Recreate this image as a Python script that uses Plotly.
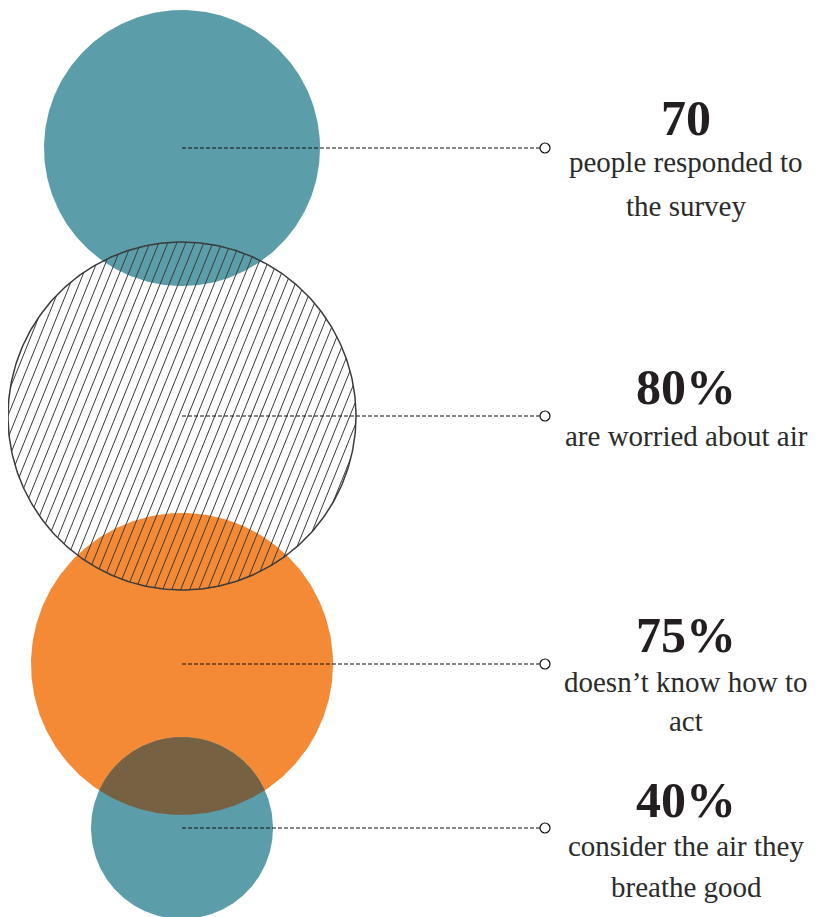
import numpy as np
import plotly.graph_objects as go

# ---- data ----
values = ["70", "80%", "75%", "40%"]
labels = [
    ["people responded to", "the survey"],
    ["are worried about air"],
    ["doesn\u2019t know how to", "act"],
    ["consider the air they", "breathe good"],
]

# ---- layout / style ----
W, H = 819, 917
OFF = 8  # page body margin
CX = 182
centers_y = [148, 416, 664, 828]
radii = [138, 174, 151, 91]
styles = ["teal", "hatch", "orange", "teal"]
TEAL = "#5b9ea9"
ORANGE = "#f48a35"
BROWN = "#766142"
LINE_END = 540
TEXT_X = 686
num_dy = [-30, -29, -29, -28]
label_dy = [[14, 58], [20], [18, 57], [18, 59]]

fig = go.Figure()


def circle_pts(cx, cy, r, n=360):
    t = np.linspace(0, 2 * np.pi, n + 1)
    return cx + r * np.cos(t), cy + r * np.sin(t)


# filled circles
for i, st in enumerate(styles):
    if st in ("teal", "orange"):
        x, y = circle_pts(CX, centers_y[i], radii[i])
        fig.add_trace(go.Scatter(x=x, y=y, mode="lines", fill="toself",
                                 fillcolor=TEAL if st == "teal" else ORANGE,
                                 line=dict(width=0), hoverinfo="skip", showlegend=False))

# overlap lens between orange (2) and bottom teal (3)
def lens(c1, r1, c2, r2, n=2000):
    x1, y1 = circle_pts(CX, c1, r1, n)
    x2, y2 = circle_pts(CX, c2, r2, n)
    in1 = (x1 - CX) ** 2 + (y1 - c2) ** 2 <= r2 ** 2
    in2 = (x2 - CX) ** 2 + (y2 - c1) ** 2 <= r1 ** 2
    px = np.concatenate([x1[in1], x2[in2]])
    py = np.concatenate([y1[in1], y2[in2]])
    mx, my = px.mean(), py.mean()
    order = np.argsort(np.arctan2(py - my, px - mx))
    px, py = px[order], py[order]
    return np.append(px, px[0]), np.append(py, py[0])

lx, ly = lens(centers_y[2], radii[2], centers_y[3], radii[3])
fig.add_trace(go.Scatter(x=lx, y=ly, mode="lines", fill="toself", fillcolor=BROWN,
                         line=dict(width=0), hoverinfo="skip", showlegend=False))

# hatched circle
i = 1
cy, r = centers_y[i], radii[i]
theta = np.deg2rad(68)
d = np.array([np.cos(theta), -np.sin(theta)])  # up-right in screen coords
nrm = np.array([np.sin(theta), np.cos(theta)])
spacing = 9 * np.sin(theta)
hx, hy = [], []
s = -r + spacing / 2
while s < r:
    h = np.sqrt(r * r - s * s)
    p0 = np.array([CX, cy]) + nrm * s - d * h
    p1 = np.array([CX, cy]) + nrm * s + d * h
    hx += [p0[0], p1[0], None]
    hy += [p0[1], p1[1], None]
    s += spacing
fig.add_trace(go.Scatter(x=hx, y=hy, mode="lines", line=dict(color="#3a3a3a", width=1),
                         hoverinfo="skip", showlegend=False))
x, y = circle_pts(CX, cy, r)
fig.add_trace(go.Scatter(x=x, y=y, mode="lines", line=dict(color="#3a3a3a", width=1.5),
                         hoverinfo="skip", showlegend=False))

# connector lines and end markers
for i, yc in enumerate(centers_y):
    fig.add_trace(go.Scatter(x=[CX, LINE_END], y=[yc, yc], mode="lines",
                             line=dict(color="#111111", width=1.2, dash="4px,2px"),
                             hoverinfo="skip", showlegend=False))
    fig.add_trace(go.Scatter(x=[LINE_END + 5], y=[yc], mode="markers",
                             marker=dict(symbol="circle", size=10, color="white",
                                         line=dict(color="#111111", width=1.2)),
                             hoverinfo="skip", showlegend=False))

# texts
for i, yc in enumerate(centers_y):
    fig.add_annotation(x=TEXT_X, y=yc + num_dy[i], text="<b>%s</b>" % values[i],
                       showarrow=False, xanchor="center", yanchor="middle",
                       font=dict(family="Liberation Serif", size=50, color="#231f20"))
    for line, dy in zip(labels[i], label_dy[i]):
        fig.add_annotation(x=TEXT_X, y=yc + dy, text=line, showarrow=False,
                           xanchor="center", yanchor="middle",
                           font=dict(family="Liberation Serif", size=29, color="#2b2b2b"))

fig.update_layout(
    width=W - OFF, height=H - OFF, margin=dict(l=0, r=0, t=0, b=0),
    paper_bgcolor="white", plot_bgcolor="white",
    xaxis=dict(range=[OFF, W], visible=False, fixedrange=True),
    yaxis=dict(range=[H, OFF], visible=False, fixedrange=True),
    showlegend=False,
)
fig.write_html("out.html")
